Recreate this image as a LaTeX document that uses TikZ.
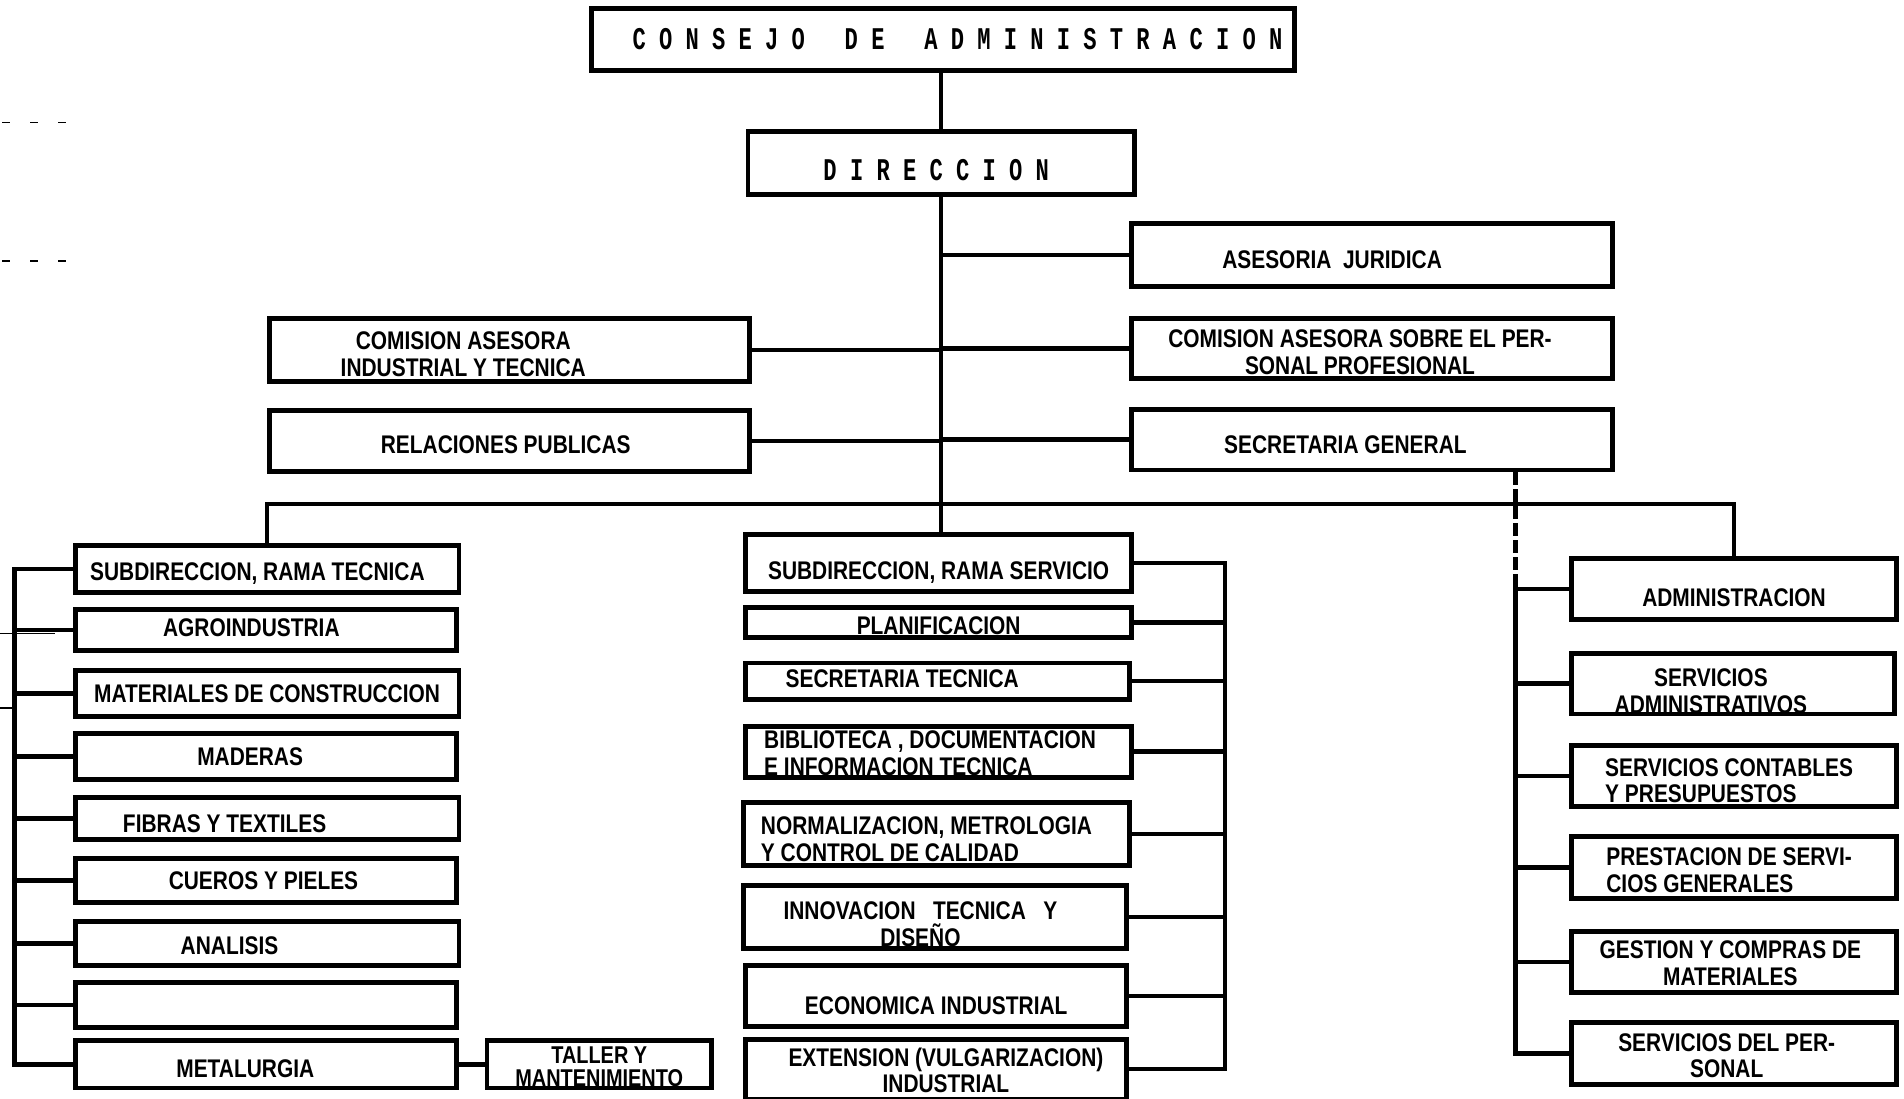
\documentclass[tikz,border=0pt]{standalone}
\usepackage{fontspec}
\newfontfamily\lf{Liberation Sans}[FakeStretch=0.82]
\newfontfamily\mf{Liberation Mono}[FakeStretch=0.7]
\tikzset{
 box/.style={draw, line width=2pt, inner sep=0pt},
 lab/.style={font=\lf\bfseries\fontsize{10.5}{11}\selectfont, align=center, inner sep=0pt},
 ttl/.style={font=\mf\bfseries\fontsize{13}{14}\selectfont},
 conn/.style={line width=1.8pt},
 dconn/.style={line width=1.8pt, dash pattern=on 5pt off 2pt},
 stray/.style={line width=0.5pt}
}
\newcommand\bx[7]{\node[box, minimum width={(#4-#2)*0.5pt}, minimum height={(#5-#3)*0.5pt}, label={[lab,#6]center:{#7}}] (#1) at ({(#2+#4)/2},{(#3+#5)/2}) {};}
\begin{document}
\begin{tikzpicture}[x=0.5pt,y=-0.5pt]
\useasboundingbox (0,0) rectangle (1568,905);
% top
\bx{cons}{487}{7}{1066}{58}{ttl,xshift=6pt}{C O N S E J O\ \ \ D E\ \ \ A D M I N I S T R A C I O N}
\bx{dir}{616}{108}{934}{160}{ttl,xshift=-2pt,yshift=-3pt}{D I R E C C I O N}
\bx{aj}{932}{184}{1328}{236}{xshift=-16.5pt,yshift=-2pt}{ASESORIA\ \ JURIDICA}
\bx{cai}{222}{262}{617}{314}{xshift=-19pt,yshift=-2pt}{COMISION ASESORA\\INDUSTRIAL Y TECNICA}
\bx{cap}{932}{262}{1328}{312}{xshift=-5pt,yshift=-1.5pt}{COMISION ASESORA SOBRE EL PER-\\SONAL PROFESIONAL}
\bx{rp}{222}{338}{617}{388}{xshift=-1.5pt,yshift=-1.5pt}{RELACIONES PUBLICAS}
\bx{sg}{932}{337}{1328}{387}{xshift=-11pt,yshift=-2pt}{SECRETARIA GENERAL}
% left column
\bx{st}{62}{449}{378}{488}{xshift=-4pt,yshift=-2pt}{SUBDIRECCION, RAMA TECNICA}
\bx{agro}{62}{502}{376}{536}{xshift=-6pt,yshift=1pt}{AGROINDUSTRIA}
\bx{mat}{62}{552}{378}{590}{}{MATERIALES DE CONSTRUCCION}
\bx{mad}{62}{604}{376}{642}{xshift=-6.5pt}{MADERAS}
\bx{fib}{62}{657}{378}{691}{xshift=-17.5pt,yshift=-2pt}{FIBRAS Y TEXTILES}
\bx{cue}{62}{707}{376}{743}{xshift=-1pt}{CUEROS Y PIELES}
\bx{ana}{62}{759}{378}{795}{xshift=-15.5pt,yshift=-1pt}{ANALISIS}
\bx{emp}{62}{809}{376}{846}{}{}
\bx{met}{62}{857}{376}{896}{xshift=-8.5pt,yshift=-2pt}{METALURGIA}
\bx{tal}{401}{857}{586}{896}{yshift=-1pt,font=\lf\bfseries\fontsize{10}{9.5}\selectfont}{TALLER Y\\MANTENIMIENTO}
% middle column
\bx{ss}{614}{440}{932}{487}{yshift=-4pt}{SUBDIRECCION, RAMA SERVICIO}
\bx{pla}{614}{500}{932}{525}{yshift=-1.5pt}{PLANIFICACION}
\bx{sect}{614}{546}{930}{576}{xshift=-14.5pt,yshift=1pt}{SECRETARIA TECNICA}
\bx{bib}{614}{598}{932}{640}{align=left,xshift=-3.5pt,yshift=-0.5pt}{BIBLIOTECA , DOCUMENTACION\\E INFORMACION TECNICA}
\bx{nor}{612}{661}{930}{713}{align=left,xshift=-4pt,yshift=-2pt}{NORMALIZACION, METROLOGIA\\Y CONTROL DE CALIDAD}
\bx{inn}{612}{729}{928}{781}{xshift=-6pt,yshift=-3pt}{INNOVACION\ \ \ TECNICA\ \ \ Y\\DISEÑO}
\bx{eco}{614}{795}{928}{845}{yshift=-4pt}{ECONOMICA INDUSTRIAL}
\bx{ext}{614}{856}{928}{905}{xshift=4pt,yshift=-0.5pt}{EXTENSION (VULGARIZACION)\\INDUSTRIAL}
% right column
\bx{adm}{1294}{460}{1562}{510}{yshift=-3.5pt}{ADMINISTRACION}
\bx{sa}{1294}{538}{1560}{588}{xshift=-9pt,yshift=-3pt}{SERVICIOS\\ADMINISTRATIVOS}
\bx{sc}{1294}{614}{1562}{664}{align=left,xshift=-2pt,yshift=-2pt}{SERVICIOS CONTABLES\\Y PRESUPUESTOS}
\bx{ps}{1294}{689}{1562}{740}{align=left,xshift=-2pt,yshift=-1pt}{PRESTACION DE SERVI-\\CIOS GENERALES}
\bx{gc}{1294}{767}{1562}{817}{xshift=-1.5pt,yshift=-0.5pt}{GESTION Y COMPRAS DE\\MATERIALES}
\bx{sp}{1294}{842}{1562}{893}{xshift=-3pt,yshift=-1pt}{SERVICIOS DEL PER-\\SONAL}
% connectors
\coordinate (bus) at (0,415);
\coordinate (lr) at (12,0);
\coordinate (mr) at (1009,0);
\coordinate (rr) at (1248,0);
\draw[conn] (dir.north |- cons.south) -- (dir.north);
\draw[conn] (dir.south) -- (dir.south |- ss.north);
\foreach \n in {aj,cap,sg} \draw[conn] (dir.south |- \n.west) -- (\n.west);
\foreach \n in {cai,rp} \draw[conn] (dir.south |- \n.east) -- (\n.east);
\draw[conn] (st.north) -- (st.north |- bus) -- (adm.north |- bus) -- (adm.north);
% left rail
\draw[conn] (st.west) -- (lr |- st.west) -- (lr |- met.west) -- (met.west);
\foreach \n in {agro,mat,mad,fib,cue,ana,emp} \draw[conn] (lr |- \n.west) -- (\n.west);
\draw[conn] (met.east) -- (tal.west);
% middle rail
\draw[conn] (ss.east) -- (mr |- ss.east) -- (mr |- ext.east) -- (ext.east);
\foreach \n in {pla,sect,bib,nor,inn,eco} \draw[conn] (mr |- \n.east) -- (\n.east);
% right rail
\draw[dconn] (rr |- sg.south) -- (rr |- adm.west);
\draw[conn] (adm.west) -- (rr |- adm.west) -- (rr |- sp.west) -- (sp.west);
\foreach \n in {sa,sc,ps,gc} \draw[conn] (rr |- \n.west) -- (\n.west);
% stray marks of the scan
\draw[stray, dash pattern=on 3pt off 8.5pt] (2,101) -- (57,101);
\draw[stray, dash pattern=on 3pt off 8.5pt] (2,215) -- (57,215);
\draw[stray] (0,522) -- (45,522);
\draw[stray] (0,583) -- (10,583);
\end{tikzpicture}
\end{document}
